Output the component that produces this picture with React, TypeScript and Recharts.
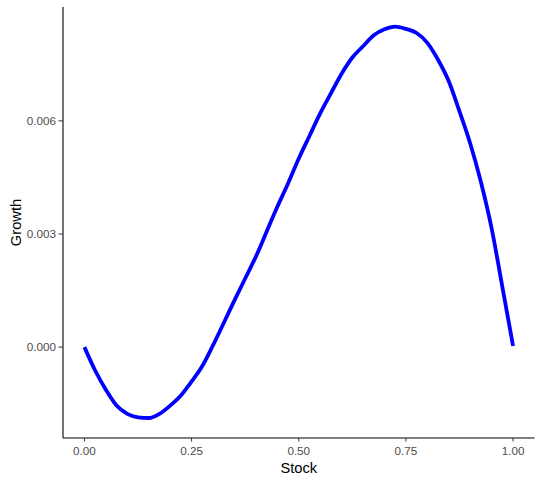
import { LineChart, Line, XAxis, YAxis } from 'recharts';

const stock = [
  0, 0.025, 0.05, 0.075, 0.1, 0.125, 0.15, 0.175, 0.2, 0.225, 0.25, 0.275, 0.3, 0.325, 0.35, 0.375, 0.4,
  0.425, 0.45, 0.475, 0.5, 0.525, 0.55, 0.575, 0.6, 0.625, 0.65, 0.675, 0.7, 0.725, 0.75, 0.775, 0.8,
  0.825, 0.85, 0.875, 0.9, 0.925, 0.95, 0.975, 1,
];

// growth (units of 0.001)
const growth = [
  0, -0.62, -1.13, -1.55, -1.77, -1.86, -1.88, -1.77, -1.55, -1.28, -0.91, -0.5, 0.05, 0.64, 1.24, 1.82, 2.4,
  3.06, 3.72, 4.34, 5.0, 5.6, 6.2, 6.73, 7.25, 7.68, 7.98, 8.27, 8.43, 8.5, 8.44, 8.33, 8.07,
  7.62, 7.05, 6.25, 5.4, 4.38, 3.15, 1.6, 0.03,
];

const xTicks = [0, 0.25, 0.5, 0.75, 1];
const yTicks = [0, 0.003, 0.006];

const chartData = stock.map((s, i) => ({ stock: s, growth: growth[i] / 1000 }));

const font = '"Liberation Sans", Arial, sans-serif';
const tickStyle = { fill: '#4D4D4D', fontSize: 11.7, fontFamily: font };

export default function App() {
  return (
    <div style={{ position: 'absolute', left: 0, top: 0, background: '#fff' }}>
      <LineChart width={542} height={483} data={chartData} margin={{ top: 7, right: 7.5, bottom: 0, left: 0 }}>
        <XAxis
          dataKey="stock"
          type="number"
          domain={[-0.05, 1.05]}
          ticks={xTicks}
          tickFormatter={(v: number) => v.toFixed(2)}
          height={45}
          tick={tickStyle}
          tickSize={3.5}
          tickMargin={5}
          tickLine={{ stroke: '#333333' }}
          axisLine={{ stroke: '#000', strokeWidth: 1.1 }}
          label={(props: any) => {
            const vb = props.viewBox;
            return (
              <text x={vb.x + vb.width / 2} y={473} textAnchor="middle" fontSize={14.7} fontFamily={font} fill="#000">
                Stock
              </text>
            );
          }}
        />
        <YAxis
          type="number"
          domain={[-0.00241, 0.00902]}
          ticks={yTicks}
          tickFormatter={(v: number) => v.toFixed(3)}
          width={63}
          tick={tickStyle}
          tickSize={4.5}
          tickMargin={2.5}
          tickLine={{ stroke: '#333333' }}
          axisLine={{ stroke: '#000', strokeWidth: 1.1 }}
          label={(props: any) => {
            const vb = props.viewBox;
            const cy = vb.y + vb.height / 2;
            return (
              <text
                x={20.5}
                y={cy}
                transform={`rotate(-90, 20.5, ${cy})`}
                textAnchor="middle"
                fontSize={14.7}
                fontFamily={font}
                fill="#000"
              >
                Growth
              </text>
            );
          }}
        />
        <Line
          type="monotone"
          dataKey="growth"
          stroke="#0000FF"
          strokeWidth={3.8}
          dot={false}
          isAnimationActive={false}
        />
      </LineChart>
    </div>
  );
}
